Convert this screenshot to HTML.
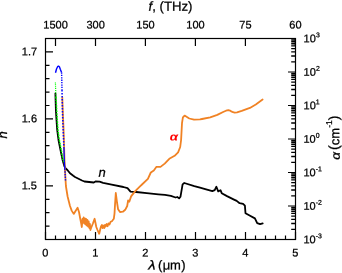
<!DOCTYPE html>
<html><head><meta charset="utf-8"><title>chart</title>
<style>html,body{margin:0;padding:0;background:#fff;}body{width:342px;height:273px;overflow:hidden;font-family:"Liberation Sans",sans-serif;}</style>
</head><body>
<svg width="342" height="273" viewBox="0 0 342 273" style="display:block;will-change:transform;opacity:0.999">
<rect width="342" height="273" fill="#fff"/>
<path d="M55.4,93.4 L55.9,110.0 L56.5,120.0 L57.2,130.0 L58.5,140.0 L59.3,144.0 L60.9,152.0 L62.6,160.0 L64.3,166.0 L65.7,168.5 L67.4,170.0 L70.0,173.3 L73.3,175.8 L75.0,177.0 L82.0,180.5 L84.4,181.5 L93.8,182.5 L95.5,181.5 L99.6,181.7 L103.1,182.9 L111.7,184.7 L123.4,187.0 L127.5,188.2 L130.5,191.7 L136.2,192.0 L146.7,193.1 L158.4,194.3 L165.0,194.9 L170.9,195.9 L175.6,197.5 L177.3,197.0 L179.1,198.4 L180.5,196.7 L182.6,184.4 L184.3,183.0 L194.3,186.1 L200.0,187.7 L207.0,189.7 L212.3,191.2 L214.7,190.2 L216.4,186.7 L218.2,191.4 L220.5,190.2 L221.7,193.2 L227.0,196.1 L234.0,199.6 L236.7,200.9 L239.6,203.2 L243.1,203.8 L244.9,205.6 L245.5,213.2 L249.6,215.5 L254.9,218.4 L257.2,223.1 L260.1,224.1 L262.7,223.4" fill="none" stroke="#000" stroke-width="1.8" stroke-linejoin="round" stroke-linecap="round"/>
<path d="M62.3,97.5 L62.8,112.0 L63.5,128.0 L64.0,144.0 L64.5,160.0 L65.1,172.0 L65.9,186.0 L67.6,196.5 L70.0,206.0 L71.7,210.6 L73.7,213.9 L77.6,207.8 L79.0,212.0 L80.3,219.0 L81.3,224.0 L81.8,227.0 L82.5,219.0 L83.0,222.5 L83.6,217.5 L84.2,223.5 L84.9,218.5 L85.5,224.5 L86.1,219.0 L86.8,225.5 L87.4,220.0 L88.0,226.5 L88.7,221.5 L89.3,228.0 L89.9,224.0 L90.4,230.0 L91.1,228.0 L92.9,223.5 L94.6,218.8 L95.3,222.0 L96.3,227.0 L97.5,230.0 L99.2,233.8 L100.2,229.5 L101.0,226.5 L101.9,225.0 L102.6,228.0 L103.3,225.5 L104.3,228.0 L105.0,224.8 L105.7,226.5 L106.6,224.0 L107.6,226.2 L108.5,223.3 L109.5,224.5 L110.6,221.8 L111.9,221.2 L113.8,218.8 L114.5,213.6 L115.0,205.0 L115.8,193.0 L117.1,203.0 L118.1,209.3 L120.0,212.1 L122.9,211.7 L125.2,209.8 L127.2,206.0 L128.1,200.5 L129.3,201.7 L131.1,196.4 L135.2,191.1 L140.0,186.4 L142.0,184.5 L147.9,178.8 L150.8,172.5 L153.8,170.5 L156.5,166.8 L160.5,166.9 L164.7,163.6 L169.3,158.8 L174.6,155.8 L178.1,152.3 L180.2,147.0 L181.1,140.0 L182.0,123.2 L182.9,117.4 L184.6,115.6 L189.3,118.5 L194.0,119.7 L200.0,119.4 L202.0,119.0 L210.2,117.3 L217.3,114.9 L223.1,112.0 L226.0,110.7 L228.4,110.2 L230.0,110.6 L231.3,111.4 L233.0,112.2 L234.7,112.6 L237.0,112.3 L241.7,110.9 L249.9,107.9 L255.8,104.4 L262.6,99.5" fill="none" stroke="#F08224" stroke-width="1.8" stroke-linejoin="round" stroke-linecap="round"/>
<path d="M55.5,72.8 L56.5,69.0 L57.6,66.7 L58.5,66.1 L59.4,66.8 L60.3,69.3 L61.6,72.6" fill="none" stroke="#0000FF" stroke-width="1.4" stroke-linejoin="round"/>
<path d="M61.6,72.4 L61.8,80.0 L62.0,90.0" fill="none" stroke="#0000FF" stroke-width="1.4" stroke-dasharray="1.3 1.1"/>
<path d="M62.0,90.0 L62.6,116.0 L63.6,140.0 L63.9,147.0" fill="none" stroke="#0000FF" stroke-width="1.5" stroke-dasharray="1.6 1.4"/>
<path d="M63.9,147.0 L64.3,160.0 L64.9,170.3" fill="none" stroke="#0000FF" stroke-width="1.3"/>
<path d="M65.0,171.3 L65.5,180.6" fill="none" stroke="#0000FF" stroke-width="1.4" stroke-dasharray="1.5 1.1"/>
<path d="M55.4,82.4 L55.8,93.4 L56.0,97.0" fill="none" stroke="#00FF00" stroke-width="1.2" stroke-dasharray="1 0.9"/>
<path d="M56.0,97.0 L56.7,110.0 L57.3,120.0 L58.0,130.0 L59.3,140.0 L60.1,144.0 L61.6,152.0 L63.1,160.0 L63.5,162.0" fill="none" stroke="#00FF00" stroke-width="1.5" stroke-dasharray="1.6 1.1"/>
<g stroke="#000" stroke-width="1.2" fill="none" stroke-linecap="butt">
<rect x="45.5" y="38.5" width="250.0" height="201.0"/>
<path d="M45.5,239.5 v-7.5 M55.5,239.5 v-4 M65.5,239.5 v-4 M75.5,239.5 v-4 M85.5,239.5 v-4 M95.5,239.5 v-7.5 M105.5,239.5 v-4 M115.5,239.5 v-4 M125.5,239.5 v-4 M135.5,239.5 v-4 M145.5,239.5 v-7.5 M155.5,239.5 v-4 M165.5,239.5 v-4 M175.5,239.5 v-4 M185.5,239.5 v-4 M195.5,239.5 v-7.5 M205.5,239.5 v-4 M215.5,239.5 v-4 M225.5,239.5 v-4 M235.5,239.5 v-4 M245.5,239.5 v-7.5 M255.5,239.5 v-4 M265.5,239.5 v-4 M275.5,239.5 v-4 M285.5,239.5 v-4 M295.5,239.5 v-7.5 M55.5,38.5 v7.5 M95.5,38.5 v7.5 M145.4,38.5 v7.5 M195.4,38.5 v7.5 M245.4,38.5 v7.5 M295.3,38.5 v7.5 M45.5,239.5 h4 M45.5,226.1 h4 M45.5,212.7 h4 M45.5,199.3 h4 M45.5,185.9 h7.5 M45.5,172.5 h4 M45.5,159.1 h4 M45.5,145.7 h4 M45.5,132.3 h4 M45.5,118.9 h7.5 M45.5,105.5 h4 M45.5,92.1 h4 M45.5,78.7 h4 M45.5,65.3 h4 M45.5,51.9 h7.5 M45.5,38.5 h4 M295.5,239.5 h-7.5 M295.5,206.0 h-7.5 M295.5,172.5 h-7.5 M295.5,139.0 h-7.5 M295.5,105.5 h-7.5 M295.5,72.0 h-7.5 M295.5,38.5 h-7.5"/>
<path d="M295.5,229.4 h-4.3 M295.5,223.5 h-4.3 M295.5,219.3 h-4.3 M295.5,216.1 h-4.3 M295.5,213.4 h-4.3 M295.5,211.2 h-4.3 M295.5,209.2 h-4.3 M295.5,207.5 h-4.3 M295.5,195.9 h-4.3 M295.5,190.0 h-4.3 M295.5,185.8 h-4.3 M295.5,182.6 h-4.3 M295.5,179.9 h-4.3 M295.5,177.7 h-4.3 M295.5,175.7 h-4.3 M295.5,174.0 h-4.3 M295.5,162.4 h-4.3 M295.5,156.5 h-4.3 M295.5,152.3 h-4.3 M295.5,149.1 h-4.3 M295.5,146.4 h-4.3 M295.5,144.2 h-4.3 M295.5,142.2 h-4.3 M295.5,140.5 h-4.3 M295.5,128.9 h-4.3 M295.5,123.0 h-4.3 M295.5,118.8 h-4.3 M295.5,115.6 h-4.3 M295.5,112.9 h-4.3 M295.5,110.7 h-4.3 M295.5,108.7 h-4.3 M295.5,107.0 h-4.3 M295.5,95.4 h-4.3 M295.5,89.5 h-4.3 M295.5,85.3 h-4.3 M295.5,82.1 h-4.3 M295.5,79.4 h-4.3 M295.5,77.2 h-4.3 M295.5,75.2 h-4.3 M295.5,73.5 h-4.3 M295.5,61.9 h-4.3 M295.5,56.0 h-4.3 M295.5,51.8 h-4.3 M295.5,48.6 h-4.3 M295.5,45.9 h-4.3 M295.5,43.7 h-4.3 M295.5,41.7 h-4.3 M295.5,40.0 h-4.3" stroke-width="1.35"/>
</g>
<g font-family="Liberation Sans, sans-serif" fill="#000" stroke="#000" stroke-width="0.25" transform="rotate(0.05 171 136)">
<g font-size="11" text-anchor="middle">
<text x="55.5" y="28.5">1500</text>
<text x="95.5" y="28.5">300</text>
<text x="145.4" y="28.5">150</text>
<text x="195.4" y="28.5">100</text>
<text x="245.4" y="28.5">75</text>
<text x="295.3" y="28.5">60</text>
<text x="45.5" y="256.5">0</text>
<text x="95.5" y="256.5">1</text>
<text x="145.5" y="256.5">2</text>
<text x="195.5" y="256.5">3</text>
<text x="245.5" y="256.5">4</text>
<text x="295.5" y="256.5">5</text>
</g>
<g font-size="11" text-anchor="end">
<text x="37" y="189.4">1.5</text>
<text x="37" y="122.4">1.6</text>
<text x="37" y="55.4">1.7</text>
</g>
<g font-size="11">
<text x="303.5" y="243.2">10<tspan font-size="6.9" dy="-5.2" dx="0.1">-3</tspan></text>
<text x="303.5" y="209.7">10<tspan font-size="6.9" dy="-5.2" dx="0.1">-2</tspan></text>
<text x="303.5" y="176.2">10<tspan font-size="6.9" dy="-5.2" dx="0.1">-1</tspan></text>
<text x="303.5" y="142.7">10<tspan font-size="6.9" dy="-5.2" dx="0.1">0</tspan></text>
<text x="303.5" y="109.2">10<tspan font-size="6.9" dy="-5.2" dx="0.1">1</tspan></text>
<text x="303.5" y="75.7">10<tspan font-size="6.9" dy="-5.2" dx="0.1">2</tspan></text>
<text x="303.5" y="42.2">10<tspan font-size="6.9" dy="-5.2" dx="0.1">3</tspan></text>
</g>
<text x="170.4" y="10.8" font-size="13.2" text-anchor="middle"><tspan font-style="italic">f</tspan>, (THz)</text>
<g font-size="13"><text transform="translate(148.4,269.6) scale(1.14,1)" font-style="italic">λ</text><text x="158.1" y="269.6">(</text><text x="162.8" y="269.6">μ</text><text x="170.0" y="269.6">m</text><text x="181.3" y="269.6">)</text></g>
<text transform="translate(7.1,138.6) rotate(-90)" font-size="13" font-style="italic">n</text>
<g transform="translate(339.3,0) rotate(-90)" font-size="13"><text transform="translate(-159.7,0.4) scale(1.14,1)" font-style="italic" font-size="12">α</text><text x="-149.9" y="-0.8" font-size="14">(</text><text x="-145.05">cm</text><text x="-127.6" y="-7.3" font-size="8.5">-1</text><text x="-120.2" y="-0.8" font-size="14">)</text></g>
<text x="98.5" y="176.9" font-size="13" font-style="italic">n</text>
<text transform="translate(169.7,140.5) scale(1.18,1)" font-size="11.3" font-style="italic" font-weight="bold" fill="#FF0000" stroke="none">α</text>
</g>
</svg>
</body></html>
